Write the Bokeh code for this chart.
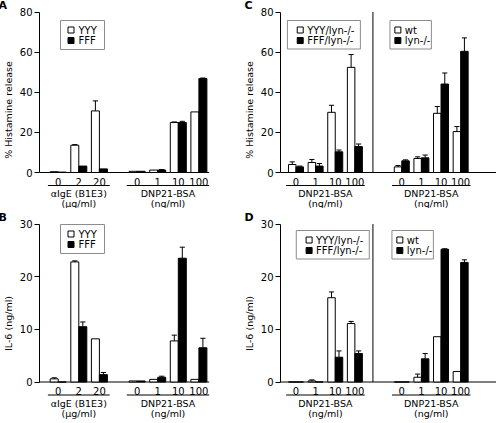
from bokeh.plotting import figure
from bokeh.models import FixedTicker, Title
from bokeh.layouts import column, row
from bokeh.embed import file_html
from bokeh.resources import INLINE
from bokeh.core.properties import value

FONT = "DejaVu Sans"

# ---------------- data ----------------
aige_doses = ["0", "2", "20"]
dnp_doses = ["0", "1", "10", "100"]
hist_ticks = [0, 20, 40, 60, 80]
il6_ticks = [0, 10, 20, 30]

# Panel A: % histamine release (aIgE 0,2,20 then DNP 0,1,10,100)
A_yyy = [0.4, 13.6, 30.7, 0.6, 1.2, 24.9, 30.2]
A_yyy_err = [0, 0.3, 5.0, 0, 0, 0.3, 0]
A_fff = [0.2, 3.2, 1.8, 0.6, 1.2, 24.9, 46.8]
A_fff_err = [0, 0, 0, 0, 0.3, 0.6, 0.3]

# Panel B: IL-6 (ng/ml)
B_yyy = [0.6, 22.8, 8.2, 0.2, 0.5, 7.8, 0.5]
B_yyy_err = [0.2, 0.2, 0, 0, 0, 1.1, 0]
B_fff = [0, 10.5, 1.4, 0.2, 0.9, 23.5, 6.5]
B_fff_err = [0, 0.9, 0.4, 0, 0.2, 2.1, 1.8]

# Panel C: % histamine release (DNP 0,1,10,100)
C_yyy = [4.0, 5.0, 30.0, 52.4]
C_yyy_err = [1.3, 1.5, 3.5, 6.4]
C_fff = [2.8, 3.2, 10.3, 12.9]
C_fff_err = [0.4, 1.3, 0.9, 1.3]
C_wt = [2.8, 7.0, 29.5, 20.4]
C_wt_err = [0.7, 0.8, 3.4, 2.5]
C_lyn = [5.8, 7.3, 44.1, 60.4]
C_lyn_err = [0.5, 1.4, 5.5, 6.7]

# Panel D: IL-6 (ng/ml)
D_yyy = [0, 0.2, 16.0, 11.1]
D_yyy_err = [0, 0.2, 1.1, 0.4]
D_fff = [0, 0, 4.7, 5.4]
D_fff_err = [0, 0, 1.2, 0.5]
D_wt = [0, 0.9, 8.6, 2.0]
D_wt_err = [0, 0.6, 0, 0]
D_lyn = [0, 4.4, 25.2, 22.7]
D_lyn_err = [0, 1.0, 0.1, 0.5]

# ---------------- layout (page pixels; the layout sits 4px above the page top) ----------------
TOP_Y, TOP_H = -4, 212
BOT_Y, BOT_H = 208, 215
LEFT_W, RIGHT_W = 243, 257
TITLE_H = 15


class Panel:
    def __init__(self, fig_left, fig_top, width, height, border_left, ppx, first_center,
                 baseline, toptick, ymax, ticks, ylabel, letter):
        self.frame_left = fig_left + border_left
        self.baseline = baseline
        self.ppx = ppx
        self.ppy = (baseline - toptick) / ymax
        self.x_start = 1 - (first_center - self.frame_left) / ppx
        frame_top = fig_top + TITLE_H
        frame_bottom = fig_top + height
        x_end = self.xd(fig_left + width)
        p = figure(width=width, height=height, x_range=(self.x_start, x_end),
                   y_range=(self.yd(frame_bottom), self.yd(frame_top)),
                   x_axis_type=None, output_backend="svg", toolbar_location=None,
                   min_border_left=border_left, min_border_right=0,
                   min_border_top=TITLE_H, min_border_bottom=0)
        p.outline_line_color = None
        p.grid.visible = False
        ax = p.yaxis[0]
        ax.ticker = FixedTicker(ticks=ticks)
        ax.bounds = (0, ymax)
        ax.axis_line_color = "black"
        ax.major_tick_out = 5
        ax.major_tick_in = 0
        ax.minor_tick_out = 0
        ax.minor_tick_in = 0
        ax.major_label_standoff = 2
        ax.major_label_text_font = FONT
        ax.major_label_text_font_size = "10px"
        ax.major_label_text_color = "black"
        # panel letter
        p.title.text = letter
        p.title.align = "left"
        p.title.offset = -(border_left - 2)
        p.title.standoff = 0
        p.title.text_font = FONT
        p.title.text_font_size = "11px"
        p.title.text_font_style = "bold"
        p.title.text_color = "black"
        # y-axis title, centred on the axis rather than on the frame
        axis_mid = (baseline + toptick) / 2
        frame_mid = (frame_top + frame_bottom) / 2
        p.add_layout(Title(text=ylabel, align="center", offset=frame_mid - axis_mid,
                           standoff=5, text_font=FONT, text_font_size="9.5px",
                           text_font_style="normal", text_color="black"), "left")
        self.p = p

    def xd(self, px):
        return self.x_start + (px - self.frame_left) / self.ppx

    def yd(self, py):
        return (self.baseline - py) / self.ppy

    def dy(self, px):
        return px / self.ppy

    def group_labels(self, pos, labels, title_lines):
        p = self.p
        p.text(x=pos, y=[-self.dy(9)] * len(pos), text=labels, text_align="center",
               text_baseline="middle", text_font=value(FONT), text_font_size=value("10px"),
               text_color="black")
        p.segment(x0=[pos[0] - 0.5], x1=[pos[-1] + 0.5], y0=[-self.dy(13)],
                  y1=[-self.dy(13)], line_color="black", line_width=1)
        c = (pos[0] + pos[-1]) / 2
        p.text(x=[c, c], y=[-self.dy(21), -self.dy(31)], text=title_lines,
               text_align="center", text_baseline="middle", text_font=value(FONT),
               text_font_size=value("9.5px"), text_color="black")

    def bars(self, pos, vals, errs, w, shift, fill):
        p = self.p
        xs = [x + shift * w / 2 for x in pos]
        p.vbar(x=xs, top=vals, bottom=0, width=w, fill_color=fill, line_color="black",
               line_width=1)
        keep = [i for i, e in enumerate(errs) if e > 0]
        ex = [xs[i] for i in keep]
        ev = [vals[i] for i in keep]
        ee = [vals[i] + errs[i] for i in keep]
        cw = 2.6 / self.ppx
        p.segment(x0=ex, x1=ex, y0=ev, y1=ee, line_color="black", line_width=1)
        p.segment(x0=[x - cw for x in ex], x1=[x + cw for x in ex], y0=ee, y1=ee,
                  line_color="black", line_width=1)

    def legend(self, box, glyph_cx, text_left, rows, labels, fills):
        p = self.p
        left, top, w, h = box
        p.quad(left=[self.xd(left)], right=[self.xd(left + w)], top=[self.yd(top)],
               bottom=[self.yd(top + h)], fill_color="white", line_color="#8c8c8c",
               line_width=1)
        p.scatter(x=[self.xd(glyph_cx)] * len(rows), y=[self.yd(r) for r in rows],
                  marker="square", size=6, fill_color=fills, line_color="black",
                  line_width=1)
        p.text(x=[self.xd(text_left)] * len(rows), y=[self.yd(r) for r in rows],
               text=labels, text_align="left", text_baseline="middle",
               text_font=value(FONT), text_font_size=value("10px"), text_color="black")


# ---------------- left panels (A, B) ----------------
L_BORDER, L_PPX, L_FIRST = 43, 20.6, 61.7
L_GAP = 1.83
BAR_L = 8.0 / L_PPX
aige_pos = [1 + i for i in range(len(aige_doses))]
dnp_pos_l = [aige_pos[-1] + L_GAP + i for i in range(len(dnp_doses))]
all_pos_l = aige_pos + dnp_pos_l


def left_panel(fig_top, height, baseline, toptick, ymax, ticks, ylabel, letter,
               yyy, yyy_err, fff, fff_err, leg_top):
    pn = Panel(0, fig_top, LEFT_W, height, L_BORDER, L_PPX, L_FIRST, baseline, toptick,
               ymax, ticks, ylabel, letter)
    pn.p.segment(x0=[pn.x_start], x1=[dnp_pos_l[-1] + 0.5], y0=[0], y1=[0],
                 line_color="black", line_width=1)
    pn.bars(all_pos_l, yyy, yyy_err, BAR_L, -1, "white")
    pn.bars(all_pos_l, fff, fff_err, BAR_L, 1, "black")
    pn.group_labels(aige_pos, aige_doses, ["\u03b1IgE (B1E3)", "(\u03bcg/ml)"])
    pn.group_labels(dnp_pos_l, dnp_doses, ["DNP21-BSA", "(ng/ml)"])
    pn.legend((64, leg_top, 44, 29), 74.5, 82, [leg_top + 9.5, leg_top + 20],
              ["YYY", "FFF"], ["white", "black"])
    return pn.p


pA = left_panel(TOP_Y, TOP_H, 172, 11.5, 80, hist_ticks, "% Histamine release", "A",
                A_yyy, A_yyy_err, A_fff, A_fff_err, 20)
pB = left_panel(BOT_Y, BOT_H, 381.5, 223.5, 30, il6_ticks, "IL-6 (ng/ml)", "B",
                B_yyy, B_yyy_err, B_fff, B_fff_err, 224)

# ---------------- right panels (C, D) ----------------
R_BORDER, R_PPX, R_FIRST = 38, 19.9, 296.7
R_GAP = 2.39
R_DIV = 0.92
BAR_R = 7.6 / R_PPX
grp1 = [1 + i for i in range(len(dnp_doses))]
grp2 = [grp1[-1] + R_GAP + i for i in range(len(dnp_doses))]


def right_panel(fig_top, height, baseline, toptick, ymax, ticks, ylabel, letter,
                a, ae, b, be, c, ce, d, de, leg1, leg2):
    pn = Panel(LEFT_W, fig_top, RIGHT_W, height, R_BORDER, R_PPX, R_FIRST, baseline,
               toptick, ymax, ticks, ylabel, letter)
    p = pn.p
    p.segment(x0=[pn.x_start], x1=[pn.xd(LEFT_W + RIGHT_W)], y0=[0], y1=[0],
              line_color="black", line_width=1)
    dv = grp1[-1] + R_DIV
    p.segment(x0=[dv], x1=[dv], y0=[0], y1=[ymax], line_color="black", line_width=1)
    pn.bars(grp1, a, ae, BAR_R, -1, "white")
    pn.bars(grp1, b, be, BAR_R, 1, "black")
    pn.bars(grp2, c, ce, BAR_R, -1, "white")
    pn.bars(grp2, d, de, BAR_R, 1, "black")
    pn.group_labels(grp1, dnp_doses, ["DNP21-BSA", "(ng/ml)"])
    pn.group_labels(grp2, dnp_doses, ["DNP21-BSA", "(ng/ml)"])
    lx, ly = leg1
    pn.legend((lx, ly, 74, 28.5), lx + 13, lx + 20, [ly + 9.5, ly + 20],
              ["YYY/lyn-/-", "FFF/lyn-/-"], ["white", "black"])
    lx, ly = leg2
    pn.legend((lx, ly, 42, 28.5), lx + 8, lx + 15, [ly + 9.5, ly + 20],
              ["wt", "lyn-/-"], ["white", "black"])
    return p


pC = right_panel(TOP_Y, TOP_H, 172, 11.5, 80, hist_ticks, "% Histamine release", "C",
                 C_yyy, C_yyy_err, C_fff, C_fff_err, C_wt, C_wt_err, C_lyn, C_lyn_err,
                 (288, 20), (392, 20))
pD = right_panel(BOT_Y, BOT_H, 381.5, 223.5, 30, il6_ticks, "IL-6 (ng/ml)", "D",
                 D_yyy, D_yyy_err, D_fff, D_fff_err, D_wt, D_wt_err, D_lyn, D_lyn_err,
                 (297, 230), (394, 230))

layout = column(row(pA, pC, spacing=0), row(pB, pD, spacing=0), spacing=0,
                margin=(-4, -4, -4, -4))
open("out.html", "w").write(file_html(layout, INLINE))
